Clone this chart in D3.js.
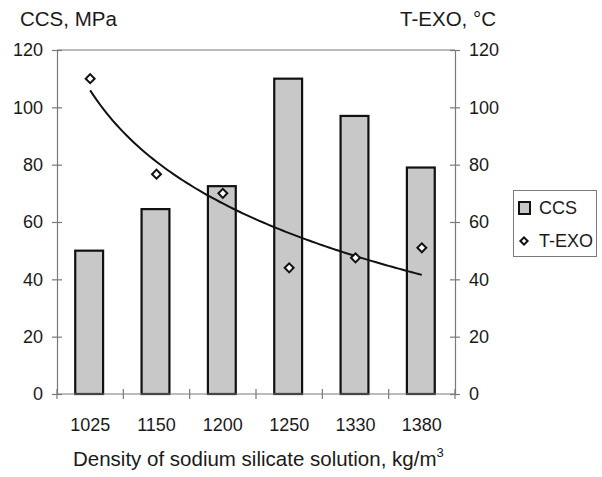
<!DOCTYPE html>
<html>
<head>
<meta charset="utf-8">
<script src="https://cdn.jsdelivr.net/npm/d3@7"></script>
<style>
  html, body { margin: 0; padding: 0; background: #fff; }
  svg text { font-family: "Liberation Sans", Arial, sans-serif; fill: #1a1a1a; }
</style>
</head>
<body>
<svg id="chart" width="602" height="477"></svg>
<script>
// Density of sodium silicate solution, kg/m3
const densities = ["1025", "1150", "1200", "1250", "1330", "1380"];
// Compressive strength, MPa (bars, left axis)
const ccs = [50, 64.5, 72.5, 110, 97, 79];
// Exotherm peak temperature, °C (markers, right axis)
const texo = [110, 76.7, 70, 44, 47.5, 51];
const yTicks = [0, 20, 40, 60, 80, 100, 120];

const svg = d3.select("#chart");
const m = { left: 57, right: 455, top: 50, bottom: 394 };

const x = d3.scaleBand().domain(densities).range([m.left, m.right]).paddingInner(0.58).paddingOuter(0.29);
const yL = d3.scaleLinear().domain([0, 120]).range([m.bottom, m.top]);
const yR = d3.scaleLinear().domain([0, 120]).range([m.bottom, m.top]);
const cx = d => x(d) + x.bandwidth() / 2;

const axisColor = "#7a7a7a";
const tickFont = 18;
const titleFont = 20.5;

// Plot frame: top border
svg.append("line")
  .attr("x1", m.left).attr("x2", m.right)
  .attr("y1", m.top).attr("y2", m.top)
  .attr("stroke", axisColor).attr("stroke-width", 1.2);

// Bars
svg.append("g").selectAll("rect").data(densities).join("rect")
  .attr("x", d => x(d) - 1)
  .attr("y", (d, i) => yL(ccs[i]))
  .attr("width", x.bandwidth())
  .attr("height", (d, i) => yL(0) - yL(ccs[i]))
  .attr("fill", "#c8c8c8")
  .attr("stroke", "#111").attr("stroke-width", 2.2);

function styleAxis(g) {
  g.select(".domain").attr("stroke", axisColor).attr("stroke-width", 1.2);
  g.selectAll(".tick line").attr("stroke", axisColor).attr("stroke-width", 1.2);
  g.selectAll(".tick text").attr("font-size", tickFont).attr("fill", "#1a1a1a")
    .attr("font-family", "Liberation Sans, Arial, sans-serif");
}

// Left axis
const gL = svg.append("g").attr("transform", `translate(${m.left},0)`)
  .call(d3.axisLeft(yL).tickValues(yTicks).tickSizeOuter(0).tickSize(5).tickPadding(9));
styleAxis(gL);
gL.selectAll(".tick line").attr("x1", 5).attr("x2", -5);

// Right axis
const gR = svg.append("g").attr("transform", `translate(${m.right},0)`)
  .call(d3.axisRight(yR).tickValues(yTicks).tickSizeOuter(0).tickSize(5).tickPadding(9));
styleAxis(gR);
gR.selectAll(".tick line").attr("x1", -5).attr("x2", 5);

// Bottom axis: ticks on category boundaries
const gB = svg.append("g").attr("transform", `translate(0,${m.bottom})`);
gB.append("line").attr("x1", m.left).attr("x2", m.right)
  .attr("stroke", axisColor).attr("stroke-width", 1.2);
const bounds = d3.range(densities.length + 1).map(i => m.left + i * (m.right - m.left) / densities.length);
gB.selectAll("line.tk").data(bounds).join("line").attr("class", "tk")
  .attr("x1", d => d).attr("x2", d => d).attr("y1", -5).attr("y2", 5)
  .attr("stroke", axisColor).attr("stroke-width", 1.2);
gB.selectAll("text").data(densities).join("text")
  .attr("x", d => cx(d)).attr("y", 37)
  .attr("text-anchor", "middle").attr("font-size", tickFont)
  .text(d => d);

// Logarithmic trend of T-EXO over category index 1..n
const lx = texo.map((_, i) => Math.log(i + 1));
const mx = d3.mean(lx), my = d3.mean(texo);
const slope = d3.sum(lx, (v, i) => (v - mx) * (texo[i] - my)) / d3.sum(lx, v => (v - mx) ** 2);
const icpt = my - slope * mx;
const xi = d3.scaleLinear().domain([1, densities.length]).range([cx(densities[0]), cx(densities[densities.length - 1])]);
const trend = d3.range(1, densities.length + 0.001, 0.05).map(t => [xi(t), yR(icpt + slope * Math.log(t))]);
svg.append("path")
  .attr("d", d3.line()(trend))
  .attr("fill", "none").attr("stroke", "#111").attr("stroke-width", 2);

// T-EXO markers (rotated squares)
svg.append("g").selectAll("path").data(densities).join("path")
  .attr("d", d3.symbol().type(d3.symbolSquare).size(40))
  .attr("transform", (d, i) => `translate(${cx(d)},${yR(texo[i])}) rotate(45)`)
  .attr("fill", "#fff").attr("stroke", "#111").attr("stroke-width", 2);

// Axis titles
svg.append("text").attr("x", 20).attr("y", 26).attr("font-size", titleFont).text("CCS, MPa");
svg.append("text").attr("x", 496).attr("y", 26).attr("font-size", titleFont).attr("text-anchor", "end").text("T-EXO, °C");
const xt = svg.append("text").attr("x", 73).attr("y", 466).attr("font-size", titleFont);
xt.append("tspan").text("Density of sodium silicate solution, kg/m");
xt.append("tspan").attr("font-size", 13).attr("dy", -9).text("3");

// Legend
const lg = svg.append("g");
lg.append("rect").attr("x", 513.5).attr("y", 190.5).attr("width", 83).attr("height", 66)
  .attr("fill", "#fff").attr("stroke", axisColor).attr("stroke-width", 1);
lg.append("rect").attr("x", 519).attr("y", 202).attr("width", 11).attr("height", 12)
  .attr("fill", "#c8c8c8").attr("stroke", "#111").attr("stroke-width", 2);
lg.append("text").attr("x", 539).attr("y", 214).attr("font-size", tickFont).text("CCS");
lg.append("path").attr("d", d3.symbol().type(d3.symbolSquare).size(26)())
  .attr("transform", "translate(524,241) rotate(45)")
  .attr("fill", "#fff").attr("stroke", "#111").attr("stroke-width", 2);
lg.append("text").attr("x", 539).attr("y", 247).attr("font-size", tickFont).text("T-EXO");
</script>
</body>
</html>
